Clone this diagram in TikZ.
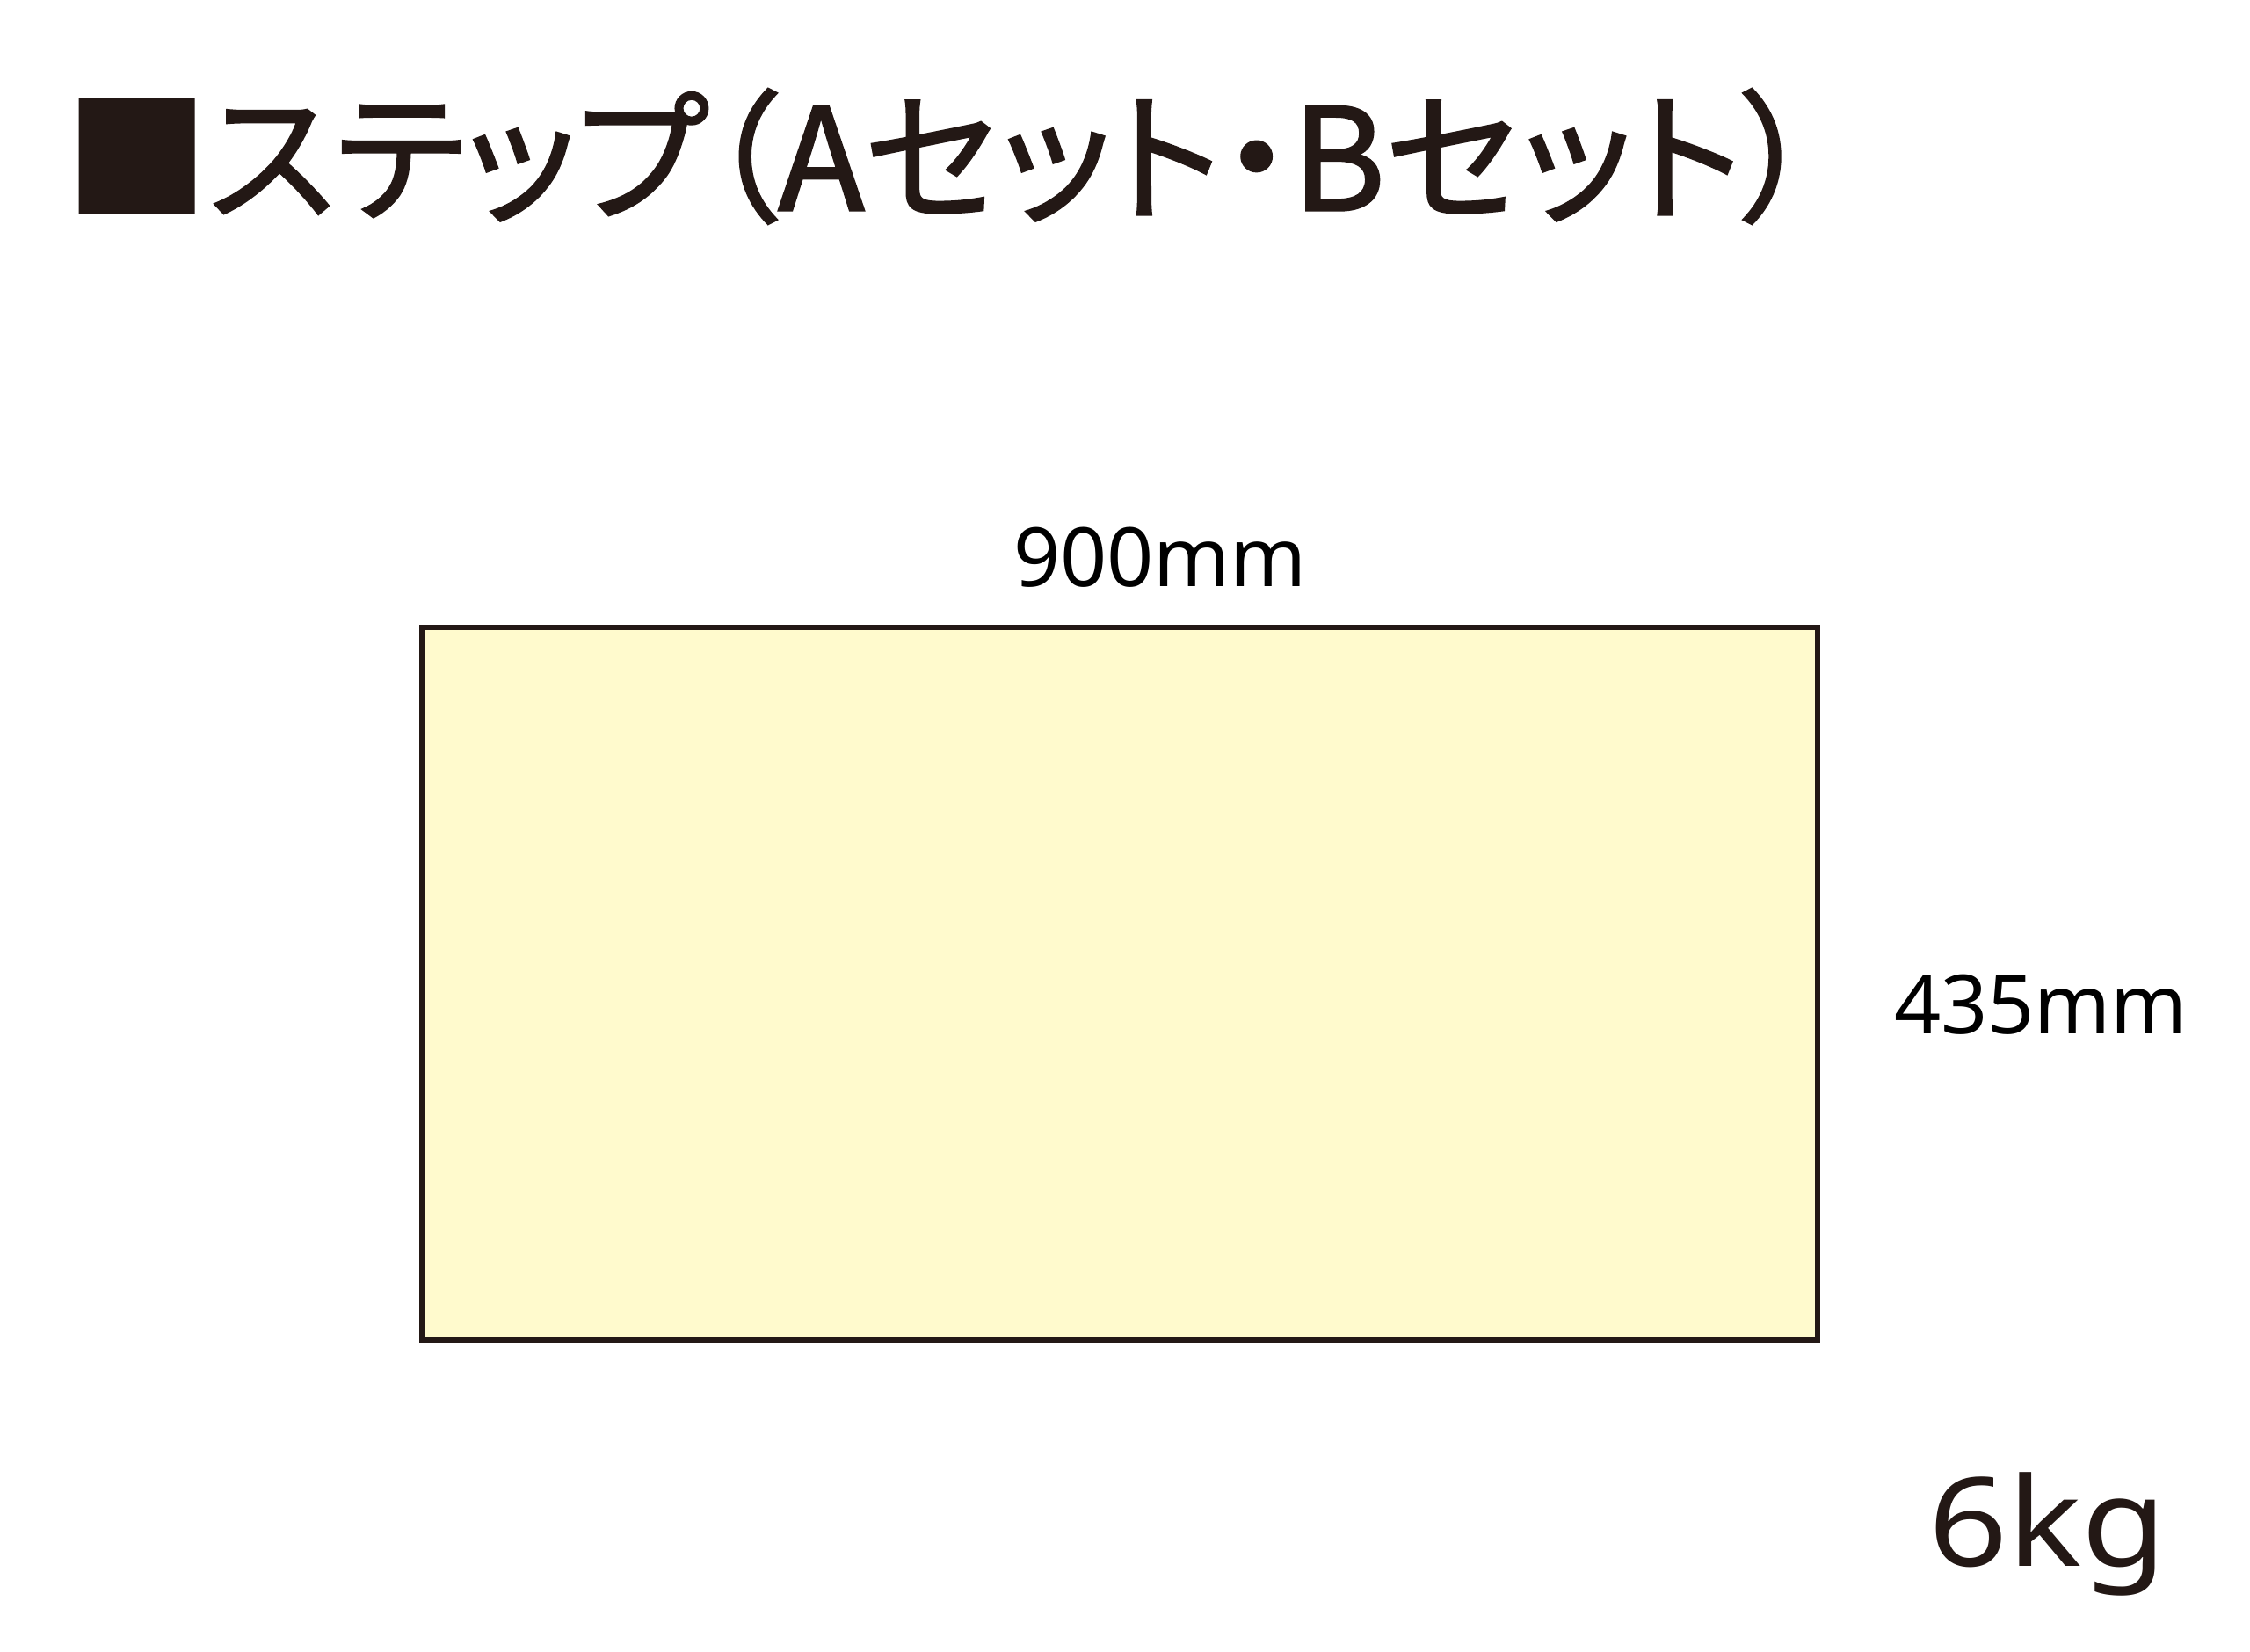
\documentclass[tikz,border=0pt]{standalone}
\usepackage{fontspec}
\usepackage{xcolor}
\setmainfont{Noto Sans}
\newfontfamily\jpfont[RawFeature=+palt, FakeBold=1.6]{Noto Sans CJK JP}
\newfontfamily\kgfont[FakeStretch=1.12]{Noto Sans}
\definecolor{inkblack}{HTML}{231815}
\definecolor{stepyellow}{HTML}{FFFACD}

\begin{document}
\begin{tikzpicture}
        \useasboundingbox (0,0) rectangle (25.6,18.8);

        \node[anchor=west, inkblack, inner sep=0pt] (title) at (0.74,17.02) {\jpfont\fontsize{46}{52}\selectfont ■ステップ（Aセット・Bセット）};

        \node[draw=inkblack, line width=1.7pt, fill=stepyellow, minimum width=15.88cm, minimum height=8.11cm, inner sep=0pt] (step) at (12.74,7.605) {};

        \node[anchor=base, inner sep=0pt] (width) at (13.20,12.12) {\fontsize{26.5}{30}\selectfont 900mm};
        \node[anchor=base, inner sep=0pt] (depth) at (23.22,7.03) {\fontsize{26.5}{30}\selectfont 435mm};
        \node[anchor=base, inner sep=0pt, inkblack] (weight) at (23.30,0.97) {\kgfont\fontsize{40}{46}\selectfont 6kg};

    \end{tikzpicture}
\end{document}
